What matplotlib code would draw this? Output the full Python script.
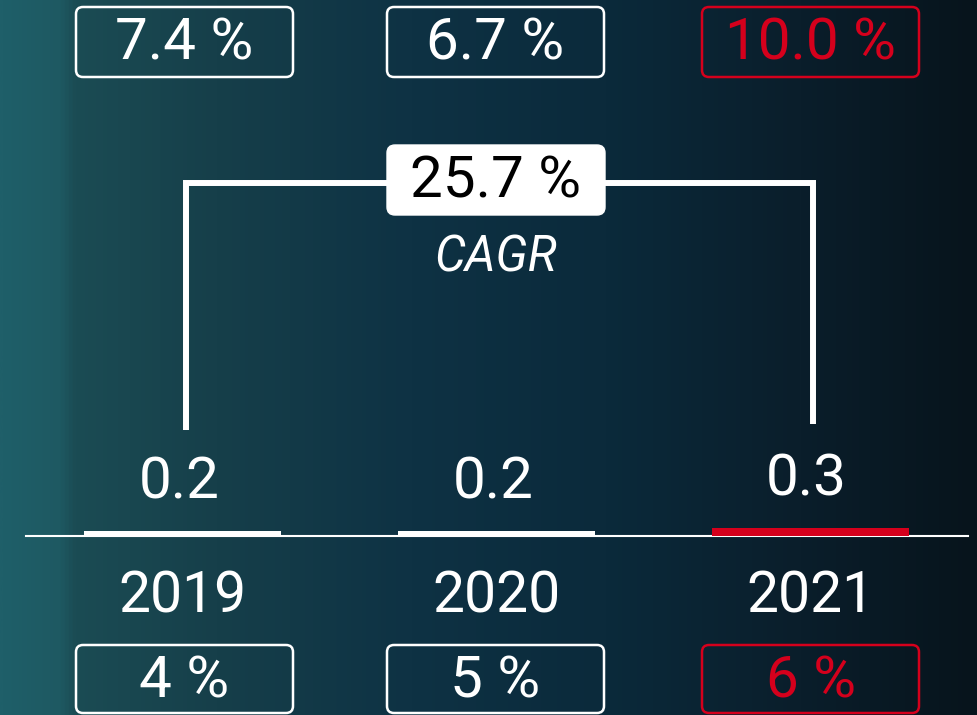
import matplotlib

matplotlib.use("Agg")
import matplotlib.pyplot as plt
import numpy as np
from matplotlib.colors import LinearSegmentedColormap
from matplotlib.patches import FancyBboxPatch

# data
years = ["2019", "2020", "2021"]
values = [0.2, 0.2, 0.3]
value_labels = ["0.2", "0.2", "0.3"]
top_labels = ["7.4 %", "6.7 %", "10.0 %"]
bottom_labels = ["4 %", "5 %", "6 %"]
cagr_label = "25.7 %"

RED = "#d5001c"
WHITE = "#ffffff"
colors = [WHITE, WHITE, RED]
FONT = ["Roboto", "DejaVu Sans"]

W, H = 977, 715
fig = plt.figure(figsize=(W / 100, H / 100), dpi=100)

# background gradient (left teal -> right near black)
bg = fig.add_axes([0, 0, 1, 1])
stops = [(0.0, "#1f5f69"), (0.06, "#1e5962"), (0.075, "#1b4c54"),
         (0.22, "#163f4a"), (0.42, "#0e3244"), (0.62, "#0b2a3b"),
         (0.82, "#0a1e2b"), (1.0, "#07141c")]
cmap = LinearSegmentedColormap.from_list("bg", stops)
bg.imshow(np.linspace(0, 1, 512)[None, :], aspect="auto", cmap=cmap,
          extent=[0, W, H, 0])
bg.set_xlim(0, W)
bg.set_ylim(H, 0)
bg.axis("off")

# bars in data coords: 314 px per category, 27 px per unit, baseline at y=536
ax = fig.add_axes([0, 0, 1, 1], facecolor="none")
ax.set_xlim(-182.5 / 314, (W - 182.5) / 314)
ax.set_ylim(-(H - 536) / 27, 536 / 27)
ax.axis("off")
x = np.arange(len(years))
ax.bar(x, values, width=0.627, color=colors, zorder=3)
ax.axhline(0, xmin=26 / W, xmax=968 / W, color=WHITE, lw=1.5, zorder=2)
for xi, v, lab in zip(x, values, value_labels):
    ax.annotate(lab, (xi - 0.012, v), xytext=(0, 23), textcoords="offset points",
                ha="center", va="baseline", color=WHITE, fontsize=42, family=FONT)
for xi, yr in zip(x, years):
    ax.annotate(yr, (xi, 0), xytext=(0, -55), textcoords="offset points",
                ha="center", va="baseline", color=WHITE, fontsize=41, family=FONT)

# overlay in pixel coords for boxes and bracket
ov = fig.add_axes([0, 0, 1, 1], facecolor="none")
ov.set_xlim(0, W)
ov.set_ylim(H, 0)
ov.axis("off")

box_x = [76, 387, 702]
box_w = 217
for bx, col, tl, bl in zip(box_x, colors, top_labels, bottom_labels):
    for y0, y1, base, lab in ((7, 77, 60, tl), (645, 713, 698, bl)):
        ov.add_patch(FancyBboxPatch((bx, y0), box_w, y1 - y0,
                                    boxstyle="round,pad=0,rounding_size=7",
                                    fc="none", ec=col, lw=1.8))
        ov.text(bx + box_w / 2, base, lab, ha="center", va="baseline",
                color=col, fontsize=42, family=FONT)

# CAGR bracket
ov.plot([186, 186, 390], [430, 183, 183], color=WHITE, lw=4.3,
        solid_joinstyle="miter", solid_capstyle="butt")
ov.plot([602, 812.5, 812.5], [183, 183, 424], color=WHITE, lw=4.3,
        solid_joinstyle="miter", solid_capstyle="butt")
ov.add_patch(FancyBboxPatch((387, 145), 218, 70,
                            boxstyle="round,pad=0,rounding_size=8",
                            fc=WHITE, ec=WHITE, lw=1))
ov.text(496, 198, cagr_label, ha="center", va="baseline", color="black",
        fontsize=42, family=FONT)
ov.text(496, 272, "CAGR", ha="center", va="baseline", color=WHITE,
        fontsize=35, style="italic", family=FONT)

fig.savefig("out.png", dpi=100)
